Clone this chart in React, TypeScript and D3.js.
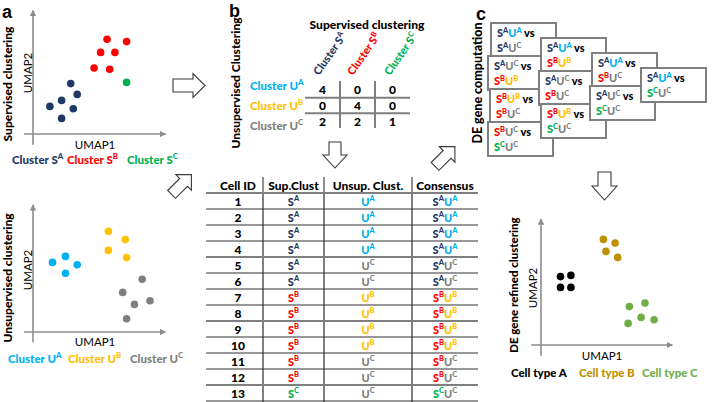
import React from "react";
import * as d3 from "d3";

// ---------- colours ----------
const NAVY = "#1f3864";
const RED = "#ff0000";
const GREEN = "#00b050";
const LBLUE = "#00b0f0";
const YEL = "#ffc000";
const GRAY = "#7f7f7f";
const GOLD = "#bf9000";
const LGREEN = "#70ad47";
const AXIS = "#8c8c8c";
const FONT = "Lato, 'Open Sans', sans-serif";
const BOLD = 900;

// ---------- data ----------
// panel a (top): supervised clustering, UMAP coordinates
const supA = [[2.9, 4.2], [3.4, 3.3], [2.2, 2.8], [1.3, 2.3], [3.1, 2.1], [2.2, 1.3]];
const supB = [[5.7, 7.9], [7.2, 7.7], [5.2, 6.8], [6.3, 6.8], [4.7, 5.5], [5.9, 5.4]];
const supC = [[7.2, 4.3]];
// panel a (bottom): unsupervised clustering
const unsA = [[1.5, 5.8], [2.5, 6.3], [3.4, 5.6], [2.5, 4.9]];
const unsB = [[5.8, 8.4], [7.1, 7.7], [5.8, 6.8], [7.2, 6.2]];
const unsC = [[8.4, 4.4], [6.9, 3.3], [7.8, 2.3], [9.0, 2.6], [7.2, 1.1]];
// panel c (bottom): refined clustering
const typeA = [[1.5, 5.7], [2.3, 5.8], [1.5, 4.8], [2.3, 4.8]];
const typeB = [[4.8, 8.8], [5.7, 8.5], [5.0, 7.8], [5.9, 7.3]];
const typeC = [[8.0, 3.5], [6.8, 3.2], [7.7, 2.3], [8.7, 2.1], [6.7, 1.8]];

// panel b: contingency table
const clusterKeys = ["A", "B", "C"];
const contingency = [[4, 0, 0], [0, 4, 0], [2, 2, 1]];

// table
const tableHeaders = ["Cell ID", "Sup.Clust", "Unsup. Clust.", "Consensus"];
const cellIds = [1, 2, 3, 4, 5, 6, 7, 8, 9, 10, 11, 12, 13];
const supAssign = ["A", "A", "A", "A", "A", "A", "B", "B", "B", "B", "B", "B", "C"];
const unsAssign = ["A", "A", "A", "A", "C", "C", "B", "B", "B", "B", "C", "C", "C"];

// panel c: DE comparisons (S cluster + U cluster), column by column
const deColumns = [
  [["AA", "AC"], ["AC", "BB"], ["BB", "BC"], ["BC", "CC"]],
  [["AA", "BB"], ["AC", "BC"], ["BB", "CC"]],
  [["AA", "BC"], ["AC", "CC"]],
  [["AA", "CC"]],
];

const legendA = ["Cluster S", "Cluster S", "Cluster S"];
const legendC = ["Cell type A", "Cell type B", "Cell type C"];

// ---------- helpers ----------
const sCol: Record<string, string> = { A: NAVY, B: RED, C: GREEN };
const uCol: Record<string, string> = { A: LBLUE, B: YEL, C: GRAY };
type Seg = [string, string, boolean?];
const S = (k: string): Seg[] => [["S", sCol[k]], [k, sCol[k], true]];
const U = (k: string): Seg[] => [["U", uCol[k]], [k, uCol[k], true]];

function Rich({ x, y, segs, size = 11, anchor = "start", weight = BOLD, transform }: any) {
  let shifted = false;
  const sh = size * 0.4;
  return (
    <text x={x} y={y} fontSize={size} fontWeight={weight} textAnchor={anchor} transform={transform} fontFamily={FONT}>
      {segs.map(([t, c, sup]: Seg, i: number) => {
        let dy: number | undefined;
        if (sup && !shifted) { dy = -sh; shifted = true; }
        else if (!sup && shifted) { dy = sh; shifted = false; }
        return (
          <tspan key={i} fill={c} dy={dy} fontSize={sup ? size * 0.68 : undefined}>{t}</tspan>
        );
      })}
    </text>
  );
}

function Hollow({ cx, cy, angle, L, sw, hw, hl }: any) {
  const pts: [number, number][] = [
    [-L / 2, -sw / 2], [L / 2 - hl, -sw / 2], [L / 2 - hl, -hw / 2], [L / 2, 0],
    [L / 2 - hl, hw / 2], [L / 2 - hl, sw / 2], [-L / 2, sw / 2],
  ];
  const d = d3.line()(pts) + "Z";
  return <path d={d} transform={`translate(${cx},${cy}) rotate(${angle})`} fill="#fff" stroke="#3a3a3a" strokeWidth={1.1} strokeLinejoin="miter" />;
}

function Axes({ x, y, x0, x1, y0, y1 }: any) {
  return (
    <g stroke={AXIS} strokeWidth={1.6}>
      <line x1={x(x0)} x2={x(x1)} y1={y(0)} y2={y(0)} markerEnd="url(#ah)" />
      <line x1={x(0)} x2={x(0)} y1={y(y0)} y2={y(y1)} markerEnd="url(#ah)" />
    </g>
  );
}

function Dots({ data, x, y, color }: any) {
  return (
    <g>
      {data.map((d: number[], i: number) => (
        <circle key={i} cx={x(d[0])} cy={y(d[1])} r={3.8} fill={color} />
      ))}
    </g>
  );
}

function RotLabel({ cx, cy, text, size = 12, weight = BOLD }: any) {
  return (
    <text transform={`translate(${cx},${cy}) rotate(-90)`} textAnchor="middle" dominantBaseline="central"
      fontSize={size} fontWeight={weight} fontFamily={FONT} fill="#000">{text}</text>
  );
}

export default function App() {
  // scales
  const xA = d3.scaleLinear().domain([0, 10]).range([33, 163]);
  const yA = d3.scaleLinear().domain([0, 10]).range([134, 14]);
  const xB = d3.scaleLinear().domain([0, 10]).range([33, 163]);
  const yB = d3.scaleLinear().domain([0, 10]).range([332, 212]);
  const xC = d3.scaleLinear().domain([0, 10]).range([541, 671]);
  const yC = d3.scaleLinear().domain([0, 10]).range([345, 225]);

  const mCol = d3.scaleBand().domain(clusterKeys).range([305, 410]);
  const mRow = d3.scaleBand().domain(clusterKeys).range([82, 129]);
  const lRow = d3.scaleBand().domain(clusterKeys).range([76, 136]);

  const tRow = d3.scaleBand().domain(["h", ...cellIds.map(String)]).range([177, 401]);
  const colEdges = [206, 263, 324, 412, 478];
  const colCenters = [238, 293.5, 368, 445];
  const tableLeft = colEdges[0], tableRight = colEdges[4];

  // DE boxes layout
  const boxW = 65, boxH = 34;
  const jitter = [[3, 0, 2, 0], [2, 0, 2], [2, 0], [0]];

  return (
    <svg width={712} height={402} style={{ position: "fixed", left: 0, top: 0, background: "#fff" }} fontFamily={FONT}>
      <defs>
        <marker id="ah" viewBox="0 0 10 10" refX={9} refY={5} markerWidth={4} markerHeight={4} orient="auto">
          <path d="M0,0 L10,5 L0,10 Z" fill={AXIS} />
        </marker>
      </defs>
      <rect width={712} height={402} fill="#fff" />

      {/* ---------------- panel a ---------------- */}
      <text x={2} y={18} fontSize={18} fontWeight={700} fontFamily="'Liberation Sans', Arial, sans-serif">a</text>
      <Axes x={xA} y={yA} x0={-0.7} x1={10.2} y0={-0.9} y1={10.3} />
      <Dots data={supA} x={xA} y={yA} color={NAVY} />
      <Dots data={supB} x={xA} y={yA} color={RED} />
      <Dots data={supC} x={xA} y={yA} color={GREEN} />
      <RotLabel cx={7} cy={84} text="Supervised clustering" />
      <RotLabel cx={27} cy={73} text="UMAP2" size={11.5} weight={400} />
      <text x={95} y={149} textAnchor="middle" fontSize={11.5}>UMAP1</text>
      {clusterKeys.map((k, i) => (
        <Rich key={k} x={[12, 67, 127][i]} y={164} size={11.5} segs={[[legendA[i], sCol[k]], [k, sCol[k], true]]} />
      ))}

      <Axes x={xB} y={yB} x0={-0.7} x1={10.2} y0={-0.85} y1={10.6} />
      <Dots data={unsA} x={xB} y={yB} color={LBLUE} />
      <Dots data={unsB} x={xB} y={yB} color={YEL} />
      <Dots data={unsC} x={xB} y={yB} color={GRAY} />
      <RotLabel cx={7} cy={278} text="Unsupervised clustering" />
      <RotLabel cx={27} cy={270} text="UMAP2" size={11.5} weight={400} />
      <text x={95} y={346} textAnchor="middle" fontSize={11.5}>UMAP1</text>
      {clusterKeys.map((k, i) => (
        <Rich key={k} x={[8, 68, 130][i]} y={363} size={11.5} segs={[["Cluster U", uCol[k]], [k, uCol[k], true]]} />
      ))}

      {/* arrows */}
      <Hollow cx={189} cy={85.5} angle={0} L={32} sw={13} hw={24} hl={12} />
      <Hollow cx={181.5} cy={184.5} angle={-45} L={28} sw={11} hw={22} hl={11} />
      <Hollow cx={335} cy={155} angle={90} L={26} sw={12} hw={24} hl={13} />
      <Hollow cx={445} cy={156.5} angle={-45} L={28} sw={11} hw={22} hl={11} />
      <Hollow cx={604.5} cy={186} angle={90} L={28} sw={13} hw={25} hl={14} />

      {/* ---------------- panel b ---------------- */}
      <text x={229} y={17} fontSize={18} fontWeight={700} fontFamily="'Liberation Sans', Arial, sans-serif">b</text>
      <RotLabel cx={235} cy={83} text="Unsupervised Clustering" />
      <text x={367} y={29} textAnchor="middle" fontSize={12} fontWeight={BOLD}>Supervised clustering</text>
      {clusterKeys.map((k, i) => (
        <Rich key={k} x={0} y={0} size={11} transform={`translate(${[319, 353, 390][i]},${76}) rotate(-55)`}
          segs={[["Cluster S", sCol[k]], [k, sCol[k], true]]} />
      ))}
      {clusterKeys.map((k) => (
        <Rich key={k} x={250} y={(lRow(k) as number) + lRow.bandwidth() / 2 + 4} size={11.5}
          segs={[["Cluster U", uCol[k]], [k, uCol[k], true]]} />
      ))}
      <g stroke={GRAY} strokeWidth={2}>
        {clusterKeys.slice(1).map((k) => (
          <line key={"v" + k} x1={mCol(k)} x2={mCol(k)} y1={81} y2={128} />
        ))}
        {clusterKeys.slice(1).map((k) => (
          <line key={"h" + k} x1={305} x2={410} y1={mRow(k)} y2={mRow(k)} />
        ))}
      </g>
      {contingency.map((row, ri) =>
        row.map((v, ci) => (
          <text key={ri + "-" + ci} x={(mCol(clusterKeys[ci]) as number) + mCol.bandwidth() / 2}
            y={(mRow(clusterKeys[ri]) as number) + mRow.bandwidth() / 2 + 4.5}
            textAnchor="middle" fontSize={12} fontWeight={BOLD}>{v}</text>
        ))
      )}

      {/* table */}
      {tableHeaders.map((h, i) => (
        <text key={h} x={colCenters[i]} y={(tRow("h") as number) + 12.5} textAnchor="middle" fontSize={12} fontWeight={BOLD}>{h}</text>
      ))}
      <g stroke="#222" strokeWidth={1}>
        {colEdges.slice(1, 4).map((x) => (
          <line key={x} x1={x} x2={x} y1={tRow("h") as number} y2={(tRow("h") as number) + tRow.bandwidth()} />
        ))}
      </g>
      <g stroke={GRAY} strokeWidth={2}>
        {colEdges.slice(1, 4).map((x) => (
          <line key={x} x1={x} x2={x} y1={(tRow("h") as number) + tRow.bandwidth()} y2={402} />
        ))}
      </g>
      {["h", ...cellIds.map(String)].map((k, i) => (
        <line key={"hl" + k} x1={tableLeft} x2={tableRight}
          y1={(tRow(k) as number) + tRow.bandwidth()} y2={(tRow(k) as number) + tRow.bandwidth()}
          stroke={i % 4 === 0 ? GRAY : "#333"} strokeWidth={i % 4 === 0 ? 2 : 1.2} />
      ))}
      {cellIds.map((id, i) => {
        const yb = (tRow(String(id)) as number) + tRow.bandwidth() / 2 + 4.5;
        const s = supAssign[i], u = unsAssign[i];
        return (
          <g key={id}>
            <text x={colCenters[0]} y={yb} textAnchor="middle" fontSize={12} fontWeight={BOLD}>{id}</text>
            <Rich x={colCenters[1]} y={yb} anchor="middle" size={11} segs={S(s)} />
            <Rich x={colCenters[2]} y={yb} anchor="middle" size={11} segs={U(u)} />
            <Rich x={colCenters[3]} y={yb} anchor="middle" size={11} segs={[...S(s), ...U(u)]} />
          </g>
        );
      })}

      {/* ---------------- panel c ---------------- */}
      <text x={476} y={20} fontSize={18} fontWeight={700} fontFamily="'Liberation Sans', Arial, sans-serif">c</text>
      <RotLabel cx={477} cy={83} text="DE gene computation" size={12.5} />
      {deColumns.map((col, ci) =>
        col.map((pair, ri) => {
          const bx = 488 + 51 * ci + jitter[ci][ri];
          const by = 23 + 15 * ci + 33 * ri;
          const [p, q] = pair;
          return (
            <g key={ci + "-" + ri}>
              <rect x={bx} y={by} width={boxW} height={boxH} fill="#fff" stroke={GRAY} strokeWidth={2} />
              <Rich x={bx + 6} y={by + 14} size={11}
                segs={[...S(p[0]), ...U(p[1]), [" vs", "#000"]]} />
              <Rich x={bx + 6} y={by + 29} size={11} segs={[...S(q[0]), ...U(q[1])]} />
            </g>
          );
        })
      )}

      <Axes x={xC} y={yC} x0={-0.75} x1={10.1} y0={-0.9} y1={10.5} />
      <Dots data={typeA} x={xC} y={yC} color="#000" />
      <Dots data={typeB} x={xC} y={yC} color={GOLD} />
      <Dots data={typeC} x={xC} y={yC} color={LGREEN} />
      <RotLabel cx={513} cy={285} text="DE gene refined clustering" size={11.5} />
      <RotLabel cx={532} cy={288} text="UMAP2" size={11.5} weight={400} />
      <text x={602} y={360} textAnchor="middle" fontSize={11.5}>UMAP1</text>
      {legendC.map((t, i) => (
        <text key={t} x={[511, 579, 642][i]} y={377} fontSize={11.5} fontWeight={BOLD}
          fill={["#000", GOLD, LGREEN][i]}>{t}</text>
      ))}
    </svg>
  );
}
